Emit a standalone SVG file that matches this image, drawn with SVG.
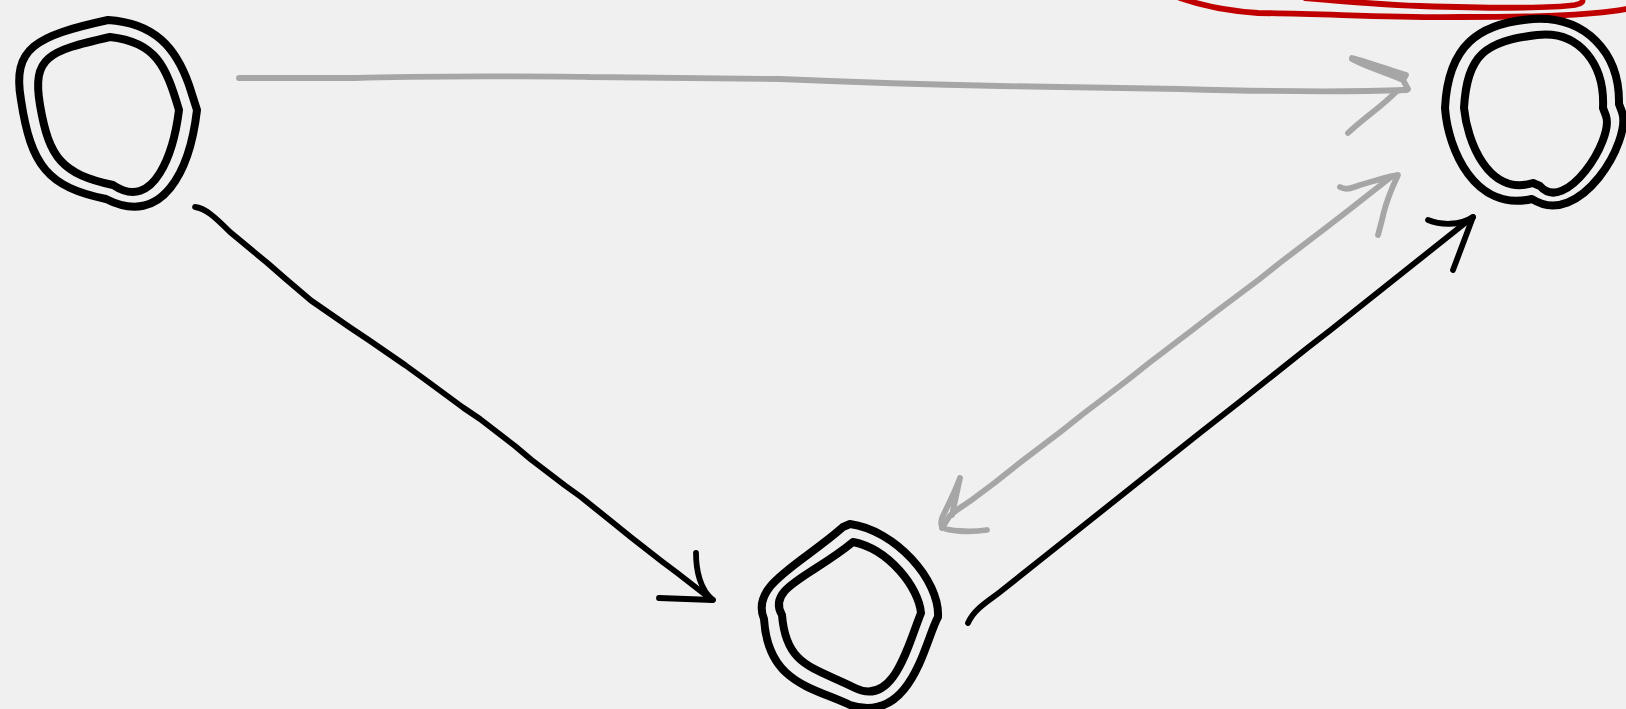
<svg xmlns="http://www.w3.org/2000/svg" width="1626" height="709" viewBox="0 0 1626 709">
<style>
.bg{fill:#f0f0f0}
.node{fill:none;stroke:#000;stroke-width:8;stroke-linecap:round;stroke-linejoin:round}
.blk{fill:none;stroke:#000;stroke-width:5.8;stroke-linecap:round;stroke-linejoin:round}
.gry{fill:none;stroke:#a6a6a6;stroke-width:5.8;stroke-linecap:round;stroke-linejoin:round}
.red{fill:none;stroke:#c00000;stroke-width:5.8;stroke-linecap:round;stroke-linejoin:round}
</style>
<rect class="bg" x="0" y="0" width="1626" height="709"/>
<g id="scribble">
<path class="red" d="M1180,-2 C1200,5 1228,11 1258,13 C1330,14 1400,18 1460,17 C1530,17 1585,16 1626,9"/>
<path class="red" d="M1305,-2 C1350,2 1390,5 1420,6 C1480,8 1545,9 1575,5 C1584,3 1583,1 1582,-3"/>
</g>
<g id="node-a">
<path class="node" d="M108,20 C155,23 176,48 189,85 L197,110 C190,170 163,228 106,199 C48,187 31,166 21,100 C12,48 35,36 108,20 Z"/>
<path class="node" d="M110,37 C156,42 166,66 179,110 C174,150 155,213 113,185 C62,174 49,158 40,105 C32,57 48,51 110,37 Z"/>
</g>
<g id="node-b">
<path class="node" d="M1533,19 C1585,16 1620,52 1619,104 L1622,112 C1632,140 1580,230 1532,199 C1475,212 1448,150 1445,108 C1448,46 1478,23 1533,19 Z"/>
<path class="node" d="M1537,35 C1580,30 1605,65 1603,108 L1606,116 C1614,140 1565,215 1540,186 L1533,183 C1488,197 1467,140 1464,108 C1467,55 1485,41 1537,35 Z"/>
</g>
<g id="node-c">
<path class="node" d="M850,524 C895,530 940,580 938,617 C925,640 912,725 850,705 C812,687 768,683 764,619 C750,585 800,565 843,527 Z"/>
<path class="node" d="M853,542 C889,549 919,588 921,613 C908,645 894,707 855,688 C813,667 786,666 782,615 C766,588 812,576 853,542 Z"/>
</g>
<g id="connectors">
<path class="gry" d="M239,78 L355,78 C420,76 560,76 590,77 L780,79 C850,82 950,85 1000,86 L1180,89 C1250,91 1350,92 1407,90"/>
<path class="gry" d="M1352,58 C1368,62 1390,70 1406,75 L1403,80 C1385,72 1366,67 1352,59 M1403,80 L1408,89 L1397,91 C1380,108 1364,118 1348,133"/>
<path class="gry" d="M1391,177 L1347,211.5 L1325,228.5 L1281,262 L1259,279.5 L1215,312.5 L1193,329.5 L1149,363 L1127,380.5 L1083,414 L1061,431.5 L1017,465 L995,482.5 L973,499 C962,507 952,512 949,517 L942,528"/>
<path class="gry" d="M1340,187 C1345,190 1350,189 1360,185 C1375,181 1390,176 1398,175 L1393,186 C1388,198 1385,205 1382,220 L1378,235"/>
<path class="gry" d="M960,478 C955,492 948,505 942,518 C939,528 943,530 960,531 C972,532 980,531 987,530 M960,478 L952,515"/>
<path class="blk" d="M195,207 C205,208 215,217 230,232 L268,263.5 L284,277.5 L311,300.5 L350,327.5 L368,339.5 L405,365 L425,379.5 L463,407.5 L480,419 L515,446 L531,459.5 L565,485.5 L581,497 L614,523.5 L630,536.5 L662,561.5 L678,573.5 L712,600"/>
<path class="blk" d="M696,553 C696,570 700,590 713,600 M659,598 L713,600"/>
<path class="blk" d="M968,623 C975,608 990,600 1000,592 L1044,557 L1066,539.5 L1110,504.5 L1132,487 L1176,452 L1198,434.5 L1242,400 L1264,382.5 L1308,347.5 L1330,330.5 L1374,295.5 L1396,278 L1440,243 L1462,225.5 L1473,217"/>
<path class="blk" d="M1428,220 C1440,225 1460,226 1473,217 L1453,270"/>
</g>
</svg>
